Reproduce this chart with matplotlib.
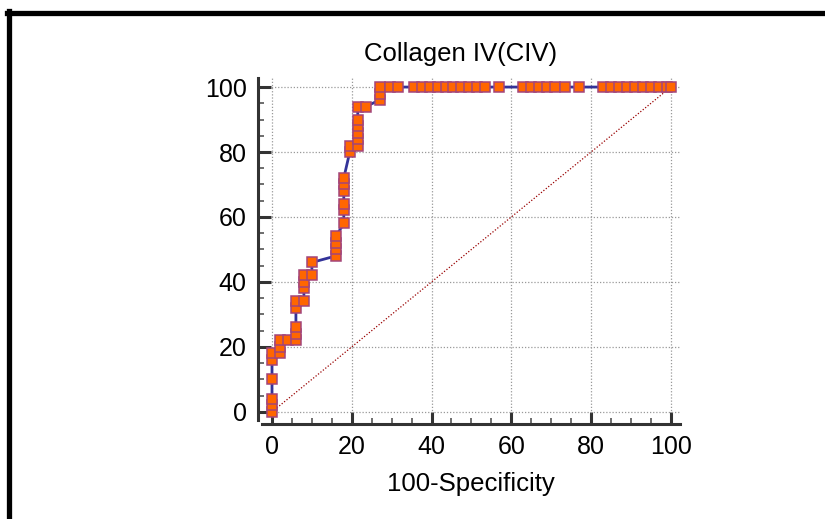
import numpy as np
import matplotlib.pyplot as plt
from matplotlib.lines import Line2D
from matplotlib.ticker import MultipleLocator

plt.rcParams['font.family'] = ['Liberation Sans', 'DejaVu Sans']

# ROC points: 100-Specificity vs Sensitivity
spec100 = [0, 0, 0, 0, 0, 0, 2, 2, 2, 4, 6, 6, 6, 6, 6, 8, 8, 8, 8, 10, 10,
           16, 16, 16, 16, 18, 18, 18, 18, 18, 18, 19.5, 19.5, 21.5, 21.5,
           21.5, 21.5, 21.5, 21.5, 23.5, 27, 27, 27, 29.5, 31.5, 35.5, 37.5,
           39.5, 41.5, 43.5, 45.5, 47.5, 49.5, 51.5, 53.5, 57, 63, 65, 67, 69,
           71, 73.5, 77, 83, 85, 87, 89, 91, 93, 95, 97, 99, 100]
sens = [0, 2, 4, 10, 16, 18, 18, 20, 22, 22, 22, 24, 26, 32, 34, 34, 38, 40,
        42, 42, 46, 48, 50, 52, 54, 58, 62, 64, 68, 70, 72, 80, 82, 82, 84,
        86, 88, 90, 94, 94, 96, 98, 100, 100, 100, 100, 100, 100, 100, 100,
        100, 100, 100, 100, 100, 100, 100, 100, 100, 100, 100, 100, 100, 100,
        100, 100, 100, 100, 100, 100, 100, 100, 100]

fig = plt.figure(figsize=(8.25, 5.19), dpi=100)
ax = fig.add_axes([0.3176, 0.1908, 0.5067, 0.659])

# reference diagonal
ax.plot([0, 100], [0, 100], color='#990000', lw=0.9, ls=(0, (1, 1.5)), zorder=2)
# ROC curve
ax.plot(spec100, sens, color='#333399', lw=2, marker='s', ms=7,
        mfc='#ff6600', mec='#a3457a', mew=1.1, zorder=3)

ax.set_xlim(-2.5, 102.3)
ax.set_ylim(-2.5, 102.8)
ax.xaxis.set_major_locator(MultipleLocator(20))
ax.yaxis.set_major_locator(MultipleLocator(20))
ax.xaxis.set_minor_locator(MultipleLocator(5))
ax.yaxis.set_minor_locator(MultipleLocator(5))
ax.grid(True, which='major', color='#999999', ls=(0, (1, 1.5)), lw=0.9)

for s in ['top', 'right']:
    ax.spines[s].set_visible(False)
for s in ['left', 'bottom']:
    ax.spines[s].set_position(('outward', 3))
    ax.spines[s].set_linewidth(2.2)
    ax.spines[s].set_color('#333333')

ax.tick_params(which='major', direction='in', length=9, width=2.2,
               color='#333333', labelsize=18, pad=8)
ax.tick_params(which='minor', direction='in', length=4.5, width=1.2,
               color='#555555')

ax.set_title('Collagen IV(CIV)', fontsize=18.5, pad=12, x=0.475)
ax.set_xlabel('100-Specificity', fontsize=18.5, labelpad=9)

# outer frame (top and left edges visible)
fig.add_artist(Line2D([0.0085, 1.0], [1 - 13 / 519, 1 - 13 / 519],
                      transform=fig.transFigure, color='black', lw=3.8))
fig.add_artist(Line2D([8.5 / 825, 8.5 / 825], [0.0, 1 - 11 / 519],
                      transform=fig.transFigure, color='black', lw=3.8))

fig.savefig('out.png', dpi=100)
